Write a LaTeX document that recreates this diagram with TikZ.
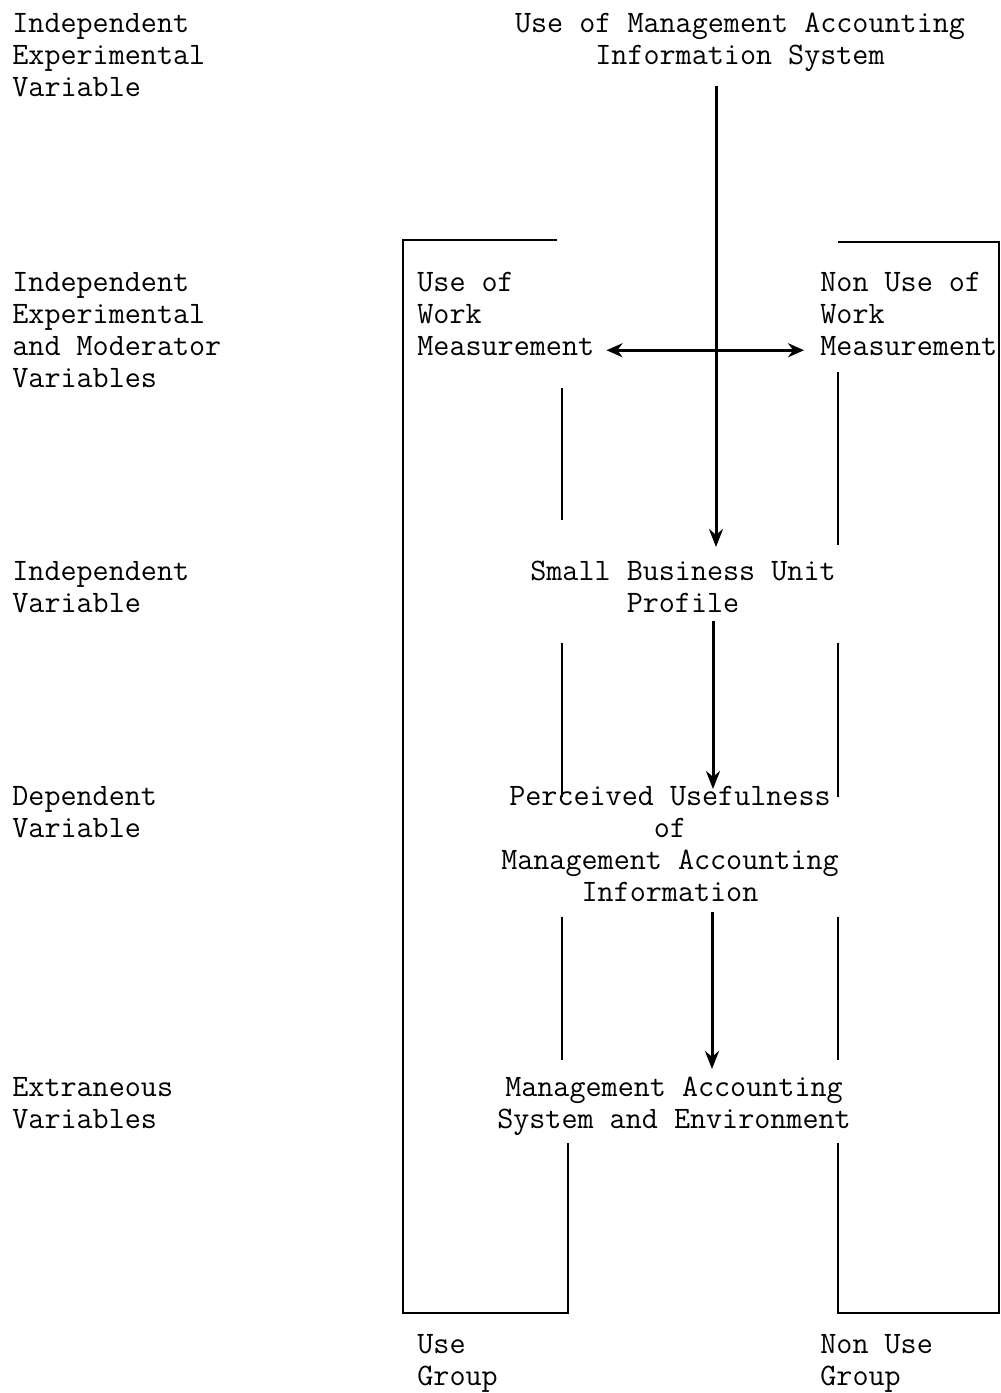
\documentclass[tikz,border=0pt]{standalone}
\usepackage{tikz}
\usetikzlibrary{arrows.meta}

\tikzset{
  txt/.style={inner sep=0pt, align=left, font=\fontsize{15.6}{16}\ttfamily},
  ctxt/.style={inner sep=0pt, align=center, font=\fontsize{15.6}{16}\ttfamily},
  bracket/.style={line width=1.2pt},
  flow/.style={line width=1.5pt, -{Stealth[length=9pt,width=7pt]}}
}

\begin{document}
\begin{tikzpicture}[x=0.5pt, y=-0.5pt]
      \useasboundingbox (0,0) rectangle (1001,1393);
      % row labels
      \node[txt, anchor=north west] (rowa) at (12,13) {Independent\\Experimental\\Variable};
      \node[txt, anchor=north west] (rowb) at (12,272) {Independent\\Experimental\\and Moderator\\Variables};
      \node[txt, anchor=north west] (rowc) at (12,561) {Independent\\Variable};
      \node[txt, anchor=north west] (rowd) at (12,786) {Dependent\\Variable};
      \node[txt, anchor=north west] (rowe) at (12,1077) {Extraneous\\Variables};
      % middle column
      \node[ctxt, anchor=north] (mais) at (740,13) {Use of Management Accounting\\Information System};
      \node[txt, anchor=north west] (uwm) at (417,272) {Use of\\Work\\Measurement};
      \node[txt, anchor=north west] (nuwm) at (820,272) {Non Use of\\Work\\Measurement};
      \node[ctxt, anchor=north] (sbu) at (683,561) {Small Business Unit\\Profile};
      \node[ctxt, anchor=north] (pum) at (670,786) {Perceived Usefulness\\of\\Management Accounting\\Information};
      \node[ctxt, anchor=north] (mase) at (674,1077) {Management Accounting\\System and Environment};
      \node[txt, anchor=north west] (ug) at (417,1334) {Use\\Group};
      \node[txt, anchor=north west] (nug) at (820,1334) {Non Use\\Group};
      % brackets
      \draw[bracket] (557,240) -- (403,240) -- (403,1313) -- (568,1313) -- (568,1143);
      \draw[bracket] (838,242) -- (999,242) -- (999,1313) -- (838,1313) -- (838,1143);
      \draw[bracket] (562,388) -- (562,520);
      \draw[bracket] (562,643) -- (562,797);
      \draw[bracket] (562,917) -- (562,1060);
      \draw[bracket] (838,372) -- (838,545);
      \draw[bracket] (838,643) -- (838,797);
      \draw[bracket] (838,917) -- (838,1060);
      % arrows
      \draw[flow] (mais.south -| 716,0) ++(0,14) -- (716,547);
      \draw[flow] (sbu.south -| 713,0) ++(0,8) -- (713,789);
      \draw[flow] (pum.south -| 712,0) ++(0,10) -- (712,1069);
      \draw[line width=1.5pt, {Stealth[length=8pt,width=7pt]}-{Stealth[length=8pt,width=7pt]}] ([xshift=6pt,yshift=3pt]uwm.south east) -- ([xshift=-8pt,yshift=3pt]nuwm.south west);
\end{tikzpicture}
\end{document}
